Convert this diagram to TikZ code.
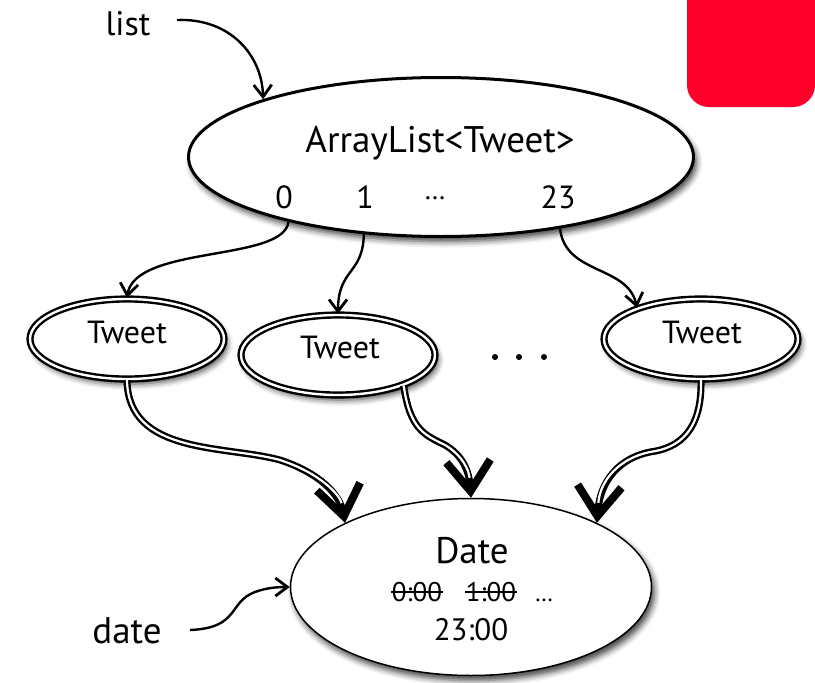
\documentclass[tikz,border=0pt]{standalone}
\usepackage{fontspec}
\setmainfont{PT Sans}
\usetikzlibrary{shapes.geometric,arrows.meta,calc,shadows.blur}
\definecolor{brandred}{RGB}{255,0,43}
\begin{document}
\begin{tikzpicture}[x=1pt,y=-1pt,
  softshadow/.style={blur shadow={shadow xshift=3pt,shadow yshift=-5pt,shadow blur radius=6pt,shadow opacity=75}},
  bigell/.style={ellipse,draw,fill=white,inner sep=0pt,softshadow},
  tweetnode/.style={ellipse,draw,line width=2.4pt,double,double distance=2.4pt,fill=white,
    minimum width=194pt,minimum height=80pt,inner sep=0pt,softshadow},
  lbl/.style={inner sep=0pt,anchor=base,font=\fontsize{37}{40}\selectfont},
  tw/.style={inner sep=0pt,anchor=base,font=\fontsize{32}{35}\selectfont},
  tm/.style={inner sep=0pt,anchor=base,font=\fontsize{27}{30}\selectfont},
  strike/.style={line width=2.2pt},
  thinarr/.style={line width=2.4pt,-{Straight Barb[length=12pt,width=18pt,line width=2.8pt]}},
  dblarr/.style={draw=white,line width=2.2pt,shorten >=20pt,
    preaction={draw=black,line width=7pt,shorten >=0pt,-{Straight Barb[length=30pt,width=44pt,line width=8pt]}}}
]
\useasboundingbox (0,0) rectangle (815,683);
% red corner block
\fill[brandred] (687,0) [rounded corners=22pt] -- (687,107) -- (815,107) [sharp corners] -- (815,0) -- cycle;

% nodes
\node[bigell,line width=3pt,minimum width=505pt,minimum height=159pt] (arr) at (441,157) {};
\node[tweetnode] (t1) at (127,339) {};
\node[tweetnode] (t2) at (338,355) {};
\node[tweetnode] (t3) at (701,339) {};
\node[bigell,line width=1.5pt,minimum width=361pt,minimum height=177pt] (date) at (471,587) {};

% texts
\node[lbl,font=\fontsize{34}{37}\selectfont] (listlbl) at (128,35) {list};
\node[lbl] (datelbl) at (127,643) {date};
\node[lbl] (arrtxt) at (440,152) {ArrayList<Tweet>};
\node[lbl,font=\fontsize{32}{35}\selectfont] (i0) at (284,208) {0};
\node[lbl,font=\fontsize{32}{35}\selectfont] (i1) at (365,208) {1};
\node[lbl,font=\fontsize{28}{30}\selectfont] (idots) at (435,199) {…};
\node[lbl,font=\fontsize{32}{35}\selectfont] (i23) at (558,208) {23};
\node[tw] (t1txt) at (127,343) {Tweet};
\node[tw] (t2txt) at (340,358) {Tweet};
\node[tw] (t3txt) at (702,343) {Tweet};
\node[lbl] (datetxt) at (472,563) {Date};
\node[tm] (h0) at (417,601) {0:00};
\node[tm] (h1) at (491,601) {1:00};
\node[tm,font=\fontsize{24}{28}\selectfont] (hdots) at (544,601) {…};
\node[lbl,font=\fontsize{31}{34}\selectfont] (t23) at (471,640) {23:00};
\draw[strike] ($(h0.base west)+(-1,-9)$) -- ($(h0.base east)+(1,-9)$);
\draw[strike] ($(h1.base west)+(-1,-9)$) -- ($(h1.base east)+(1,-9)$);

% dots between tweets
\fill (495,357) circle (3pt) (519,357) circle (3pt) (544,357) circle (3pt);

% free ends of the name arrows
\coordinate (ls) at (177,20);
\coordinate (ds) at (190,630);

% thin arrows
\draw[thinarr] (ls) .. controls (230,18) and (262,55) .. (arr.162);
\draw[thinarr] (arr.203) .. controls (284,262) and (135,245) .. (t1.north);
\draw[thinarr] (arr.225) .. controls (363,275) and (338,268) .. (t2.north);
\draw[thinarr] (arr.329) .. controls (565,275) and (628,265) .. (t3.154);
\draw[thinarr] (ds) .. controls (240,628) and (228,602) .. (255,592) .. controls (266,588) and (276,587) .. (date.west);

% double arrows
\draw[dblarr] (t1.south) .. controls (128,455) and (225,445) .. (280,460) .. controls (320,473) and (340,495) .. (date.153);
\draw[dblarr] (t2.335) .. controls (410,430) and (425,435) .. (445,445) .. controls (462,455) and (469,470) .. (date.north);
\draw[dblarr] (t3.south) .. controls (702,430) and (680,448) .. (650,452) .. controls (620,458) and (600,480) .. (date.27);
\end{tikzpicture}
\end{document}
